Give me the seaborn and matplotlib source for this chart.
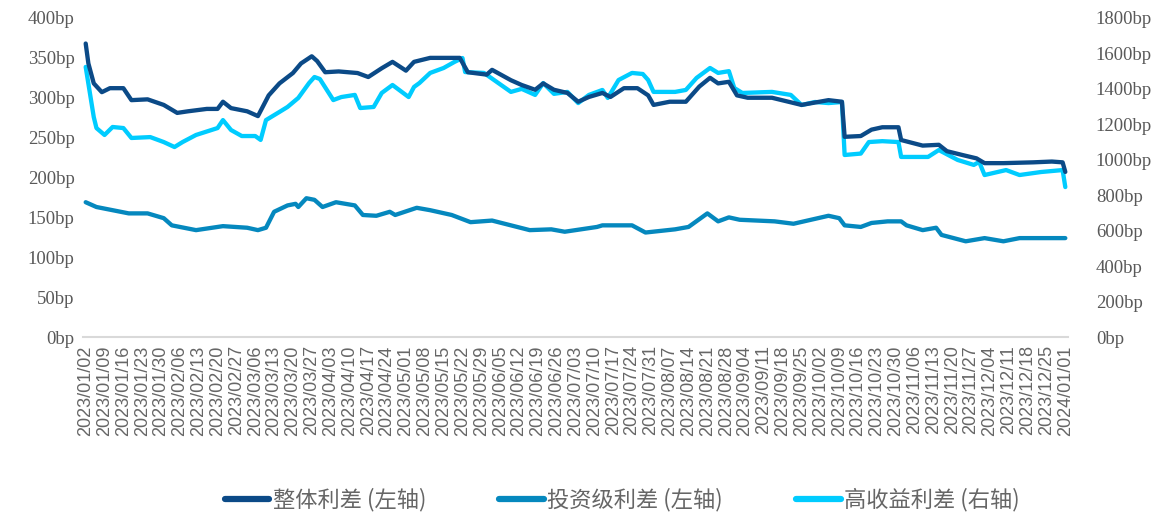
import matplotlib
matplotlib.use("Agg")
import matplotlib.pyplot as plt
from matplotlib.lines import Line2D
import seaborn as sns
import pandas as pd

sns.set_theme(style="white")
plt.rcParams['font.family'] = ['Noto Sans CJK SC', 'DejaVu Sans']

# ---------------- data ----------------
overall_dates = ["2023-01-02","2023-01-03","2023-01-05","2023-01-08","2023-01-11","2023-01-16","2023-01-19",
    "2023-01-25","2023-01-31","2023-02-05","2023-02-09","2023-02-16","2023-02-20","2023-02-22","2023-02-25",
    "2023-03-03","2023-03-07","2023-03-11","2023-03-15","2023-03-20","2023-03-23","2023-03-27","2023-03-29",
    "2023-04-01","2023-04-06","2023-04-13","2023-04-17","2023-04-22","2023-04-26","2023-05-01","2023-05-04",
    "2023-05-10","2023-05-21","2023-05-24","2023-05-31","2023-06-02","2023-06-09","2023-06-13","2023-06-18",
    "2023-06-21","2023-06-25","2023-06-30","2023-07-04","2023-07-08","2023-07-13","2023-07-16","2023-07-21",
    "2023-07-26","2023-07-30","2023-08-01","2023-08-07","2023-08-13","2023-08-18","2023-08-22","2023-08-25",
    "2023-08-29","2023-09-01","2023-09-05","2023-09-14","2023-09-25","2023-10-05","2023-10-10","2023-10-11",
    "2023-10-17","2023-10-21","2023-10-25","2023-10-31","2023-11-01","2023-11-09","2023-11-15","2023-11-18",
    "2023-11-24","2023-11-29","2023-12-02","2023-12-09","2023-12-20","2023-12-27","2023-12-31","2024-01-01"]
overall_values = [368,343,318,307,312,312,297,298,291,281,283,286,286,295,287,
    283,277,303,318,331,343,352,346,332,333,331,326,337,345,334,345,
    350,350,332,329,335,322,316,310,318,310,306,295,301,306,301,312,
    312,303,291,295,295,314,325,318,320,303,300,300,291,297,295,251,
    252,260,263,263,247,240,241,233,228,224,218,218,219,220,219,207]

ig_dates = ["2023-01-02","2023-01-06","2023-01-12","2023-01-18","2023-01-25","2023-01-31","2023-02-03",
    "2023-02-12","2023-02-22","2023-03-03","2023-03-07","2023-03-10","2023-03-13","2023-03-18","2023-03-21",
    "2023-03-22","2023-03-25","2023-03-28","2023-03-31","2023-04-05","2023-04-12","2023-04-15","2023-04-20",
    "2023-04-25","2023-04-27","2023-05-05","2023-05-10","2023-05-18","2023-05-25","2023-06-02","2023-06-09",
    "2023-06-16","2023-06-24","2023-06-29","2023-07-05","2023-07-11","2023-07-13","2023-07-24","2023-07-29",
    "2023-08-09","2023-08-14","2023-08-21","2023-08-25","2023-08-29","2023-09-02","2023-09-15","2023-09-22",
    "2023-10-05","2023-10-09","2023-10-11","2023-10-17","2023-10-21","2023-10-27","2023-11-01","2023-11-03",
    "2023-11-09","2023-11-14","2023-11-16","2023-11-25","2023-12-02","2023-12-09","2023-12-15","2024-01-01"]
ig_values = [169,163,159,155,155,149,140,134,139,137,134,137,157,165,167,
    163,174,172,163,169,165,153,152,157,153,162,159,153,144,146,140,
    134,135,132,135,138,140,140,131,135,138,155,145,150,147,145,142,
    152,149,140,138,143,145,145,140,134,137,128,120,124,120,124,124]

hy_dates = ["2023-01-02","2023-01-05","2023-01-06","2023-01-09","2023-01-12","2023-01-16","2023-01-19",
    "2023-01-26","2023-01-31","2023-02-04","2023-02-07","2023-02-12","2023-02-20","2023-02-22","2023-02-25",
    "2023-03-01","2023-03-06","2023-03-08","2023-03-10","2023-03-15","2023-03-18","2023-03-22","2023-03-26",
    "2023-03-28","2023-03-30","2023-04-04","2023-04-07","2023-04-12","2023-04-14","2023-04-19","2023-04-22",
    "2023-04-26","2023-05-02","2023-05-04","2023-05-06","2023-05-10","2023-05-15","2023-05-19","2023-05-22",
    "2023-05-23","2023-05-30","2023-06-09","2023-06-13","2023-06-18","2023-06-21","2023-06-25","2023-06-30",
    "2023-07-04","2023-07-08","2023-07-13","2023-07-15","2023-07-19","2023-07-24","2023-07-28","2023-07-30",
    "2023-08-01","2023-08-09","2023-08-13","2023-08-17","2023-08-22","2023-08-25","2023-08-29","2023-08-31",
    "2023-09-03","2023-09-14","2023-09-21","2023-09-25","2023-09-30","2023-10-05","2023-10-10","2023-10-11",
    "2023-10-17","2023-10-20","2023-10-25","2023-10-31","2023-11-01","2023-11-11","2023-11-15","2023-11-22",
    "2023-11-28","2023-11-30","2023-12-02","2023-12-10","2023-12-15","2023-12-23","2023-12-31","2024-01-01"]
hy_values = [1524,1241,1179,1140,1185,1179,1123,1128,1100,1072,1100,1140,1179,1224,1168,
    1134,1134,1112,1224,1270,1298,1349,1433,1467,1456,1337,1354,1366,1292,1298,1377,
    1422,1354,1411,1433,1490,1518,1552,1574,1495,1490,1383,1400,1366,1433,1372,1383,
    1320,1366,1394,1349,1450,1490,1484,1450,1383,1383,1394,1462,1518,1490,1500,1405,
    1377,1383,1366,1309,1326,1320,1326,1027,1035,1100,1105,1100,1016,1016,1055,999,
    971,988,914,942,914,931,942,846]

series_names = ["整体利差 (左轴)", "投资级利差 (左轴)", "高收益利差 (右轴)"]
left_ticks = [0, 50, 100, 150, 200, 250, 300, 350, 400]
right_ticks = [0, 200, 400, 600, 800, 1000, 1200, 1400, 1600, 1800]
tick_start, tick_end = "2023-01-02", "2024-01-01"

# ---------------- style ----------------
c_overall = "#0B4A87"
c_ig = "#0588BE"
c_hy = "#00CCFF"
grey = "#595959"
lw = 3.1

fig = plt.figure(figsize=(11.63, 5.16), dpi=100)
ax = fig.add_axes([83/1163, 1 - 337/516, (1068-83)/1163, (337-18)/516])
ax2 = ax.twinx()

df_o = pd.DataFrame({"date": pd.to_datetime(overall_dates), "v": overall_values})
df_i = pd.DataFrame({"date": pd.to_datetime(ig_dates), "v": ig_values})
df_h = pd.DataFrame({"date": pd.to_datetime(hy_dates), "v": hy_values})

sns.lineplot(data=df_h, x="date", y="v", ax=ax2, color=c_hy, linewidth=lw, zorder=2)
sns.lineplot(data=df_i, x="date", y="v", ax=ax, color=c_ig, linewidth=lw, zorder=3)
sns.lineplot(data=df_o, x="date", y="v", ax=ax, color=c_overall, linewidth=lw, zorder=3)

ax.set_zorder(ax2.get_zorder() + 1)
ax.patch.set_visible(False)

ax.set_ylim(0, 400)
ax2.set_ylim(0, 1800)
ax.set_yticks(left_ticks)
ax2.set_yticks(right_ticks)
ax.set_yticklabels([f"{t}bp" for t in left_ticks])
ax2.set_yticklabels([f"{t}bp" for t in right_ticks])

xt = pd.date_range(tick_start, tick_end, freq="7D")
ax.set_xlim(pd.Timestamp(tick_start) - pd.Timedelta(days=1), pd.Timestamp(tick_end) + pd.Timedelta(days=1))
ax.set_xticks(xt)
ax.set_xticklabels([d.strftime("%Y/%m/%d") for d in xt], rotation=90,
                   fontfamily="Liberation Sans", fontsize=13, color="#666666")

for lab in ax.get_yticklabels() + ax2.get_yticklabels():
    lab.set_fontfamily("Liberation Serif"); lab.set_fontsize(13.5); lab.set_color(grey)

ax.tick_params(axis="y", length=0, pad=6)
ax2.tick_params(axis="y", length=0, pad=20)
ax.tick_params(axis="x", length=0, pad=6)

ax.set_xlabel(""); ax.set_ylabel("")
ax2.set_xlabel(""); ax2.set_ylabel("")

for a in (ax, ax2):
    for s in ("left", "right", "top"):
        a.spines[s].set_visible(False)
ax2.spines["bottom"].set_visible(False)
ax.spines["bottom"].set_color("#D9D9D9")
ax.spines["bottom"].set_linewidth(1.5)
ax.grid(False); ax2.grid(False)

handles = [Line2D([0], [0], color=c, linewidth=4.5, solid_capstyle="round")
           for c in (c_overall, c_ig, c_hy)]
fig.legend(handles, series_names, loc="center", bbox_to_anchor=(0.535, 1 - 500/516),
           ncol=3, frameon=False, fontsize=16, handlelength=2.0, handletextpad=0.15,
           columnspacing=3.3, labelcolor="#666666")

fig.savefig("out.png", dpi=100)
